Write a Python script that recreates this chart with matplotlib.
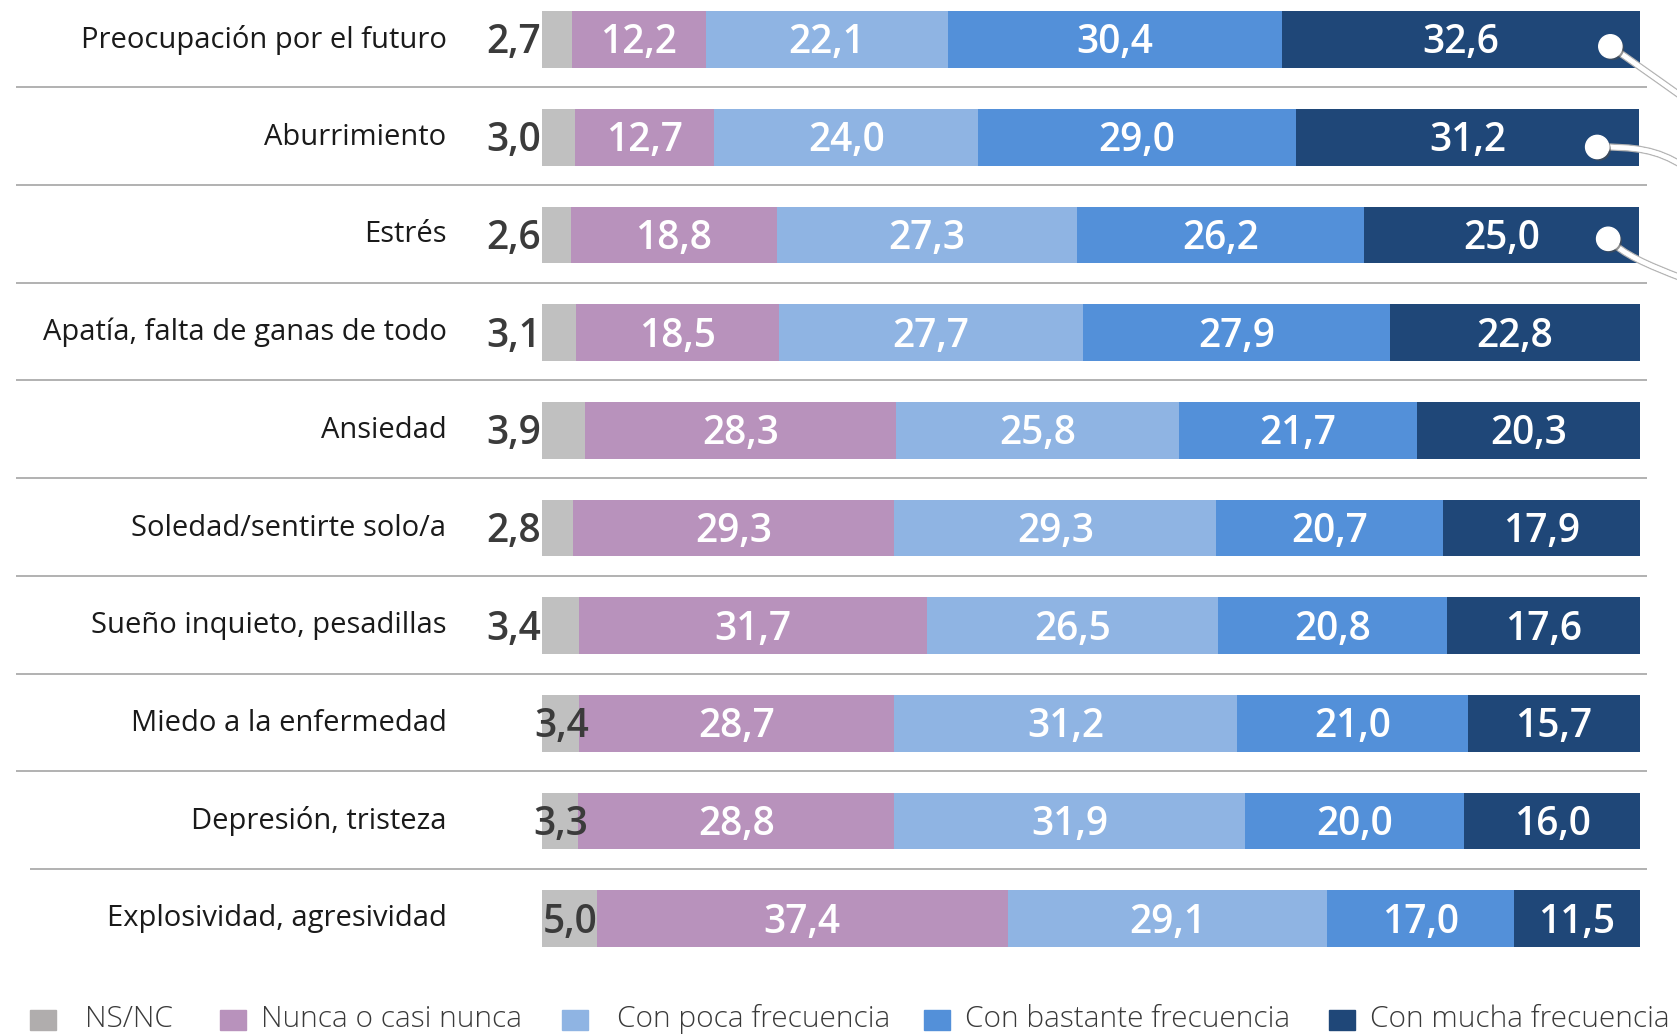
import matplotlib
matplotlib.use("Agg")
import matplotlib.pyplot as plt
import matplotlib.patheffects as pe
from matplotlib.path import Path
from matplotlib.patches import PathPatch, Rectangle

categories = ["Preocupación por el futuro", "Aburrimiento", "Estrés",
              "Apatía, falta de ganas de todo", "Ansiedad", "Soledad/sentirte solo/a",
              "Sueño inquieto, pesadillas", "Miedo a la enfermedad",
              "Depresión, tristeza", "Explosividad, agresividad"]
nsnc = [2.7, 3.0, 2.6, 3.1, 3.9, 2.8, 3.4, 3.4, 3.3, 5.0]
nunca = [12.2, 12.7, 18.8, 18.5, 28.3, 29.3, 31.7, 28.7, 28.8, 37.4]
poca = [22.1, 24.0, 27.3, 27.7, 25.8, 29.3, 26.5, 31.2, 31.9, 29.1]
bastante = [30.4, 29.0, 26.2, 27.9, 21.7, 20.7, 20.8, 21.0, 20.0, 17.0]
mucha = [32.6, 31.2, 25.0, 22.8, 20.3, 17.9, 17.6, 15.7, 16.0, 11.5]
series_names = ["NS/NC", "Nunca o casi nunca", "Con poca frecuencia",
                "Con bastante frecuencia", "Con mucha frecuencia"]

colors = ["#c0c0c0", "#b892bc", "#8fb4e3", "#5390d9", "#1f4778"]
legend_colors = ["#b0adad", "#b892bc", "#8fb4e3", "#5390d9", "#1f4778"]

plt.rcParams['font.family'] = ['Open Sans', 'DejaVu Sans']

W, H = 1677, 1035
fig = plt.figure(figsize=(W / 100, H / 100), dpi=100)
ax = fig.add_axes([0, 0, 1, 1])
# bars go from pixel 542 to 1640, rows start at 39.5 with 97.7 px pitch
px_per_unit = (1640 - 542) / 100
ax.set_xlim(-542 / px_per_unit, (W - 542) / px_per_unit)
ax.set_ylim((H - 39.5) / 97.7, -39.5 / 97.7)
ax.axis('off')

data = [nsnc, nunca, poca, bastante, mucha]
y = list(range(len(categories)))
left = [0.0] * len(categories)
for k, vals in enumerate(data):
    ax.barh(y, vals, left=left, height=0.58, color=colors[k], edgecolor='none')
    for i, v in enumerate(vals):
        if k > 0:
            ax.text(left[i] + v / 2, i + 0.04, f"{v:.1f}".replace('.', ','),
                    ha='center', va='center', color='white', fontsize=28,
                    fontweight='semibold')
        left[i] += v

# NS/NC labels
for i, v in enumerate(nsnc):
    s = f"{v:.1f}".replace('.', ',')
    if i >= 7:
        ax.text(v / 2 + 0.05, i + 0.04, s, ha='center', va='center',
                color='#3b3b3b', fontsize=28, fontweight='semibold')
    else:
        ax.text(-0.1, i + 0.04, s, ha='right', va='center',
                color='#3b3b3b', fontsize=28, fontweight='semibold')

# category labels
for i, c in enumerate(categories):
    ax.text(-8.7, i, c, ha='right', va='center', color='#1a1a1a', fontsize=21)

# separators
for i in range(len(categories) - 1):
    x0 = -46.6 if i == len(categories) - 2 else -47.9
    ax.plot([x0, 100.6], [i + 0.49, i + 0.49], color='#ababab', lw=1.3,
            solid_capstyle='butt')

# leader lines with dots on the top three rows
leaders = [
    [(97.3, 0.07), (99.0, 0.2), (101.0, 0.36), (104.0, 0.6)],
    [(96.1, 1.1), (99.5, 1.1), (101.5, 1.12), (104.0, 1.3)],
    [(97.1, 2.04), (98.5, 2.2), (100.5, 2.3), (104.0, 2.45)],
]
for pts in leaders:
    path = Path(pts, [Path.MOVETO, Path.CURVE4, Path.CURVE4, Path.CURVE4])
    patch = PathPatch(path, facecolor='none', edgecolor='white', lw=3.2,
                      clip_on=False)
    patch.set_path_effects([pe.withStroke(linewidth=5.2, foreground='#b5b5b5'),
                            pe.Normal()])
    ax.add_patch(patch)
    ax.scatter([pts[0][0]], [pts[0][1]], s=280, color='white', zorder=5,
               path_effects=[pe.SimplePatchShadow(offset=(1.5, -1.5), alpha=0.6),
                             pe.Normal()])

# legend drawn in pixel space along the bottom
lax = fig.add_axes([0, 0, 1, 1])
lax.set_xlim(0, W)
lax.set_ylim(H, 0)
lax.axis('off')
lax.patch.set_alpha(0)
sq_x = [30, 220, 562, 924, 1329]
txt_x = [85, 261, 617, 965, 1370]
for k, name in enumerate(series_names):
    lax.add_patch(Rectangle((sq_x[k], 1010), 26, 20, color=legend_colors[k]))
    lax.text(txt_x[k], 1027, name, ha='left', va='baseline', fontsize=21.5,
             color='#3a3a3a', fontweight='light')

fig.savefig("out.png", dpi=100)
